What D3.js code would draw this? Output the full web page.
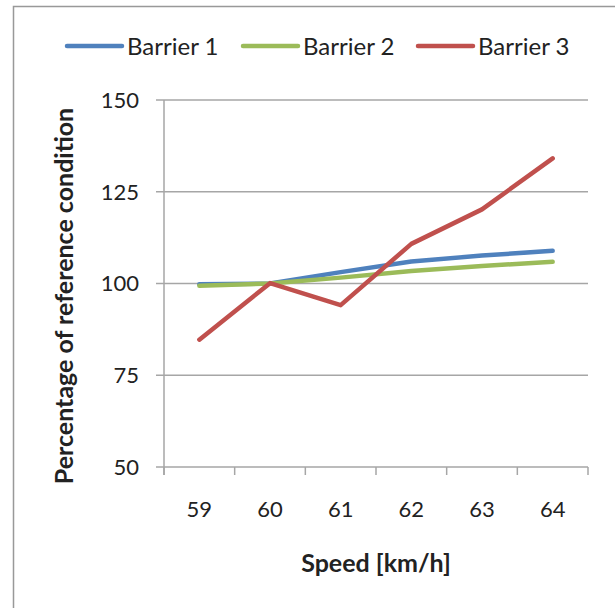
<!DOCTYPE html>
<html><head><meta charset="utf-8">
<script src="https://cdn.jsdelivr.net/npm/d3@7"></script>
<style>body{margin:0;background:#fff}svg{display:block}text{font-family:Lato,"Open Sans",sans-serif;fill:#222}</style>
</head><body><svg id="c" width="615" height="608"></svg>
<script>
const categories = ["59","60","61","62","63","64"];
const seriesNames = ["Barrier 1","Barrier 2","Barrier 3"];
const barrier1 = [99.8, 100, 103.1, 106.0, 107.6, 108.9];
const barrier2 = [99.4, 100, 101.6, 103.4, 104.8, 105.9];
const barrier3 = [84.7, 100.1, 94.1, 110.8, 120.2, 134.1];
const yTicks = [50, 75, 100, 125, 150];
const colors = ["#4F81BD","#9BBB59","#C0504D"];
const xTitle = "Speed [km/h]";
const yTitle = "Percentage of reference condition";

const svg = d3.select("#c");
const m = {left:164, right:588, top:100, bottom:467};
svg.append("rect").attr("x",13.5).attr("y",6.5).attr("width",605).attr("height",604)
  .attr("fill","none").attr("stroke","#999").attr("stroke-width",1.5);

const x = d3.scaleBand().domain(categories).range([m.left,m.right]);
const y = d3.scaleLinear().domain([50,150]).range([m.bottom,m.top]);
const grid = "#A6A6A6";

svg.append("g").selectAll("line").data(yTicks).join("line")
  .attr("x1",m.left-8).attr("x2",m.right).attr("y1",d=>y(d)).attr("y2",d=>y(d))
  .attr("stroke",grid).attr("stroke-width",1.5);
svg.append("line").attr("x1",m.left).attr("x2",m.left).attr("y1",m.top).attr("y2",m.bottom+8)
  .attr("stroke",grid).attr("stroke-width",1.5);
const edges = categories.map(c=>x(c)).concat([m.right]);
svg.append("g").selectAll("line").data(edges).join("line")
  .attr("x1",d=>d).attr("x2",d=>d).attr("y1",m.bottom).attr("y2",m.bottom+8)
  .attr("stroke",grid).attr("stroke-width",1.5);

svg.append("g").selectAll("text").data(yTicks).join("text")
  .attr("x",m.left-25).attr("y",d=>y(d)).attr("dy","0.36em").attr("text-anchor","end")
  .attr("font-size",22).text(d=>d);
svg.append("g").selectAll("text").data(categories).join("text")
  .attr("x",d=>x(d)+x.bandwidth()/2).attr("y",m.bottom+42).attr("dy","0.36em").attr("text-anchor","middle")
  .attr("font-size",22).text(d=>d);

svg.append("text").attr("x",(m.left+m.right)/2).attr("y",563).attr("dy","0.35em").attr("text-anchor","middle")
  .attr("font-size",25).attr("font-weight","bold").text(xTitle);
svg.append("text").attr("transform",`translate(64,296) rotate(-90)`)
  .attr("dy","0.35em").attr("text-anchor","middle")
  .attr("font-size",25).attr("font-weight","bold").text(yTitle);

const data = [barrier1,barrier2,barrier3];
const line = d3.line().x((d,i)=>x(categories[i])+x.bandwidth()/2).y(d=>y(d));
svg.append("g").selectAll("path").data(data).join("path")
  .attr("d",line).attr("fill","none").attr("stroke",(d,i)=>colors[i])
  .attr("stroke-width",4.5).attr("stroke-linecap","round").attr("stroke-linejoin","round");

const legX = [67, 243, 418];
const lg = svg.append("g").selectAll("g").data(seriesNames).join("g")
  .attr("transform",(d,i)=>`translate(${legX[i]},46)`);
lg.append("line").attr("x1",0).attr("x2",55).attr("stroke",(d,i)=>colors[i])
  .attr("stroke-width",4.5).attr("stroke-linecap","round");
lg.append("text").attr("x",60).attr("dy","0.36em").attr("font-size",24).text(d=>d);
</script></body></html>
